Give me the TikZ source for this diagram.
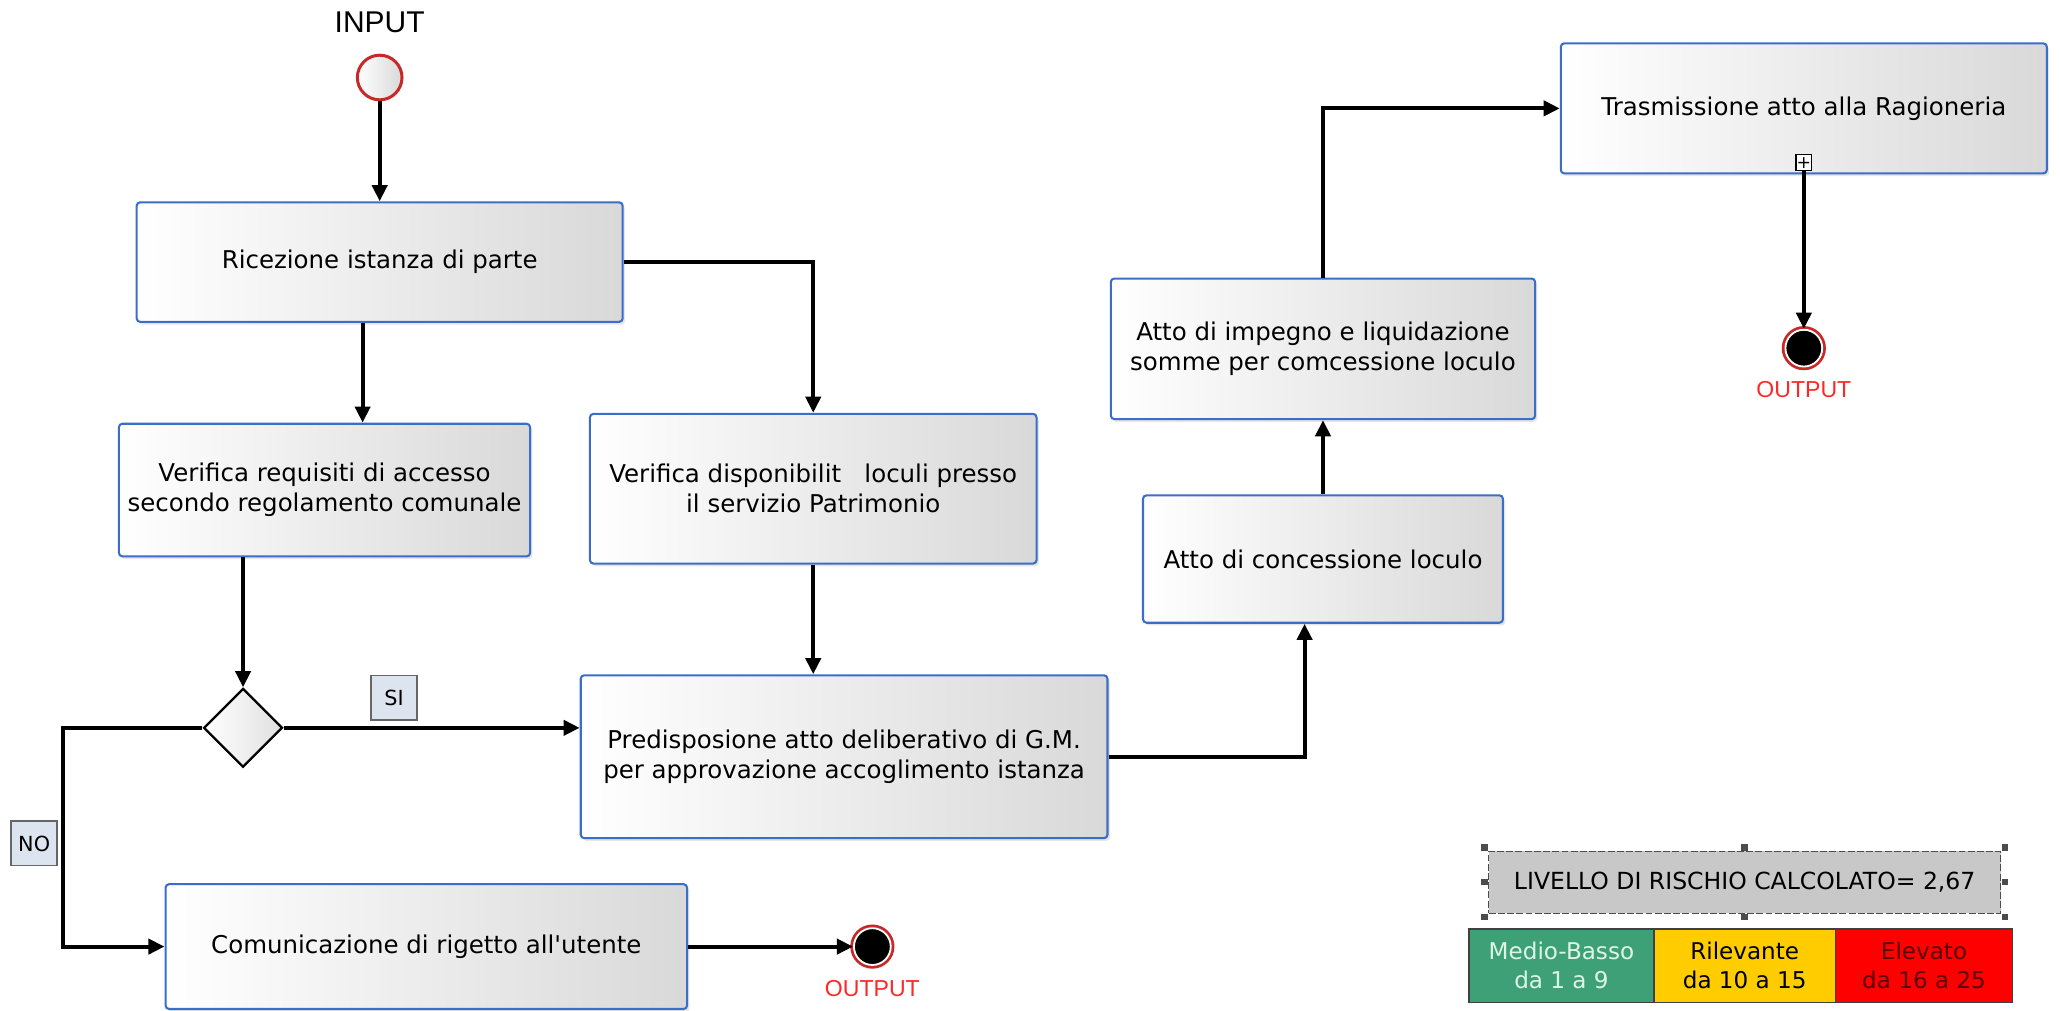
\documentclass[tikz,border=0pt]{standalone}
\usepackage{fontspec}
\setmainfont{DejaVu Sans}
\newfontfamily\arialfont{Liberation Sans}
\usepackage{tikz}
\usetikzlibrary{arrows.meta,positioning,shapes.geometric,shadows}

\definecolor{bordoblu}{RGB}{58,110,200}
\definecolor{rossocerchio}{RGB}{200,40,40}
\definecolor{rossotesto}{RGB}{255,40,40}
\definecolor{azzurrino}{RGB}{220,228,240}
\definecolor{grigiolivello}{RGB}{200,200,200}
\definecolor{verdelivello}{RGB}{62,160,118}
\definecolor{verdetesto}{RGB}{220,245,230}
\definecolor{giallolivello}{RGB}{255,204,0}
\definecolor{rossolivello}{RGB}{255,0,0}
\definecolor{rossoscuro}{RGB}{90,0,0}

\begin{document}
\begin{tikzpicture}[
    % 定義樣式
    x=0.02cm, y=-0.02cm,
    freccia/.style={-{Triangle[length=7pt,width=6.5pt]}, line width=1.8pt, draw=black},
    attivita/.style={rectangle, rounded corners=1.5pt, draw=bordoblu, line width=0.9pt,
        left color=white, right color=black!15, align=center, inner sep=2pt,
        drop shadow={opacity=0.2,shadow xshift=1pt,shadow yshift=-1.2pt},
        font=\fontsize{10.6}{13}\selectfont},
    decisione/.style={diamond, aspect=1, draw=black, line width=1pt, left color=white,
        right color=black!12, minimum width=1.2cm, minimum height=1.2cm, inner sep=0pt},
    inizio/.style={circle, draw=rossocerchio, line width=1.3pt, left color=white,
        right color=black!15, minimum size=0.68cm, inner sep=0pt},
    fine/.style={circle, fill=black, draw=white, line width=0.8pt, minimum size=0.56cm,
        inner sep=0pt, preaction={draw=rossocerchio, line width=3.2pt}},
    uscita/.style={text=rossotesto, font=\arialfont\fontsize{10}{12}\selectfont, inner sep=0pt},
    etichetta/.style={rectangle, draw=black!60, fill=azzurrino, line width=0.6pt,
        minimum width=0.7cm, minimum height=0.68cm, inner sep=1pt, font=\fontsize{9}{11}\selectfont},
    livellobox/.style={rectangle, draw=black!70, dash pattern=on 3pt off 1pt, line width=0.5pt,
        fill=grigiolivello, minimum width=7.8cm, minimum height=0.94cm, outer sep=0.06cm,
        font=\fontsize{10.2}{12}\selectfont},
    maniglia/.style={rectangle, fill=black!70, minimum size=0.1cm, inner sep=0pt},
    cella/.style={rectangle, draw=black!75, line width=0.6pt, minimum height=1.12cm,
        align=center, inner sep=1pt, font=\fontsize{10}{12.5}\selectfont},
    espandi/.style={rectangle, draw=black, line width=0.5pt, fill=white, minimum size=0.24cm,
        inner sep=0pt, font=\fontsize{7.5}{7.5}\selectfont}
]
    \useasboundingbox (0,0) rectangle (1568,769.5);

    % --- 1. 開始 (INPUT) ---
    \node[inizio] (start) at (289,59) {};
    \node[above=9pt of start, inner sep=0pt, font=\arialfont\fontsize{13}{15}\selectfont] (input) {INPUT};

    % --- 2. 左側流程 ---
    \node[attivita, minimum width=7.4cm, minimum height=1.82cm] (ric) at (289,199.5) {Ricezione istanza di parte};
    \node[attivita, minimum width=6.26cm, minimum height=2.02cm] (req) at (247,373) {Verifica requisiti di accesso\\secondo regolamento comunale};
    \node[attivita, minimum width=6.8cm, minimum height=2.28cm] (disp) at (619,372) {Verifica disponibilit~~ loculi presso\\il servizio Patrimonio};
    \node[decisione] (dec) at (185,554) {};
    \node[attivita, minimum width=8.02cm, minimum height=2.48cm] (pred) at (642.5,576) {Predisposione atto deliberativo di G.M.\\per approvazione accoglimento istanza};
    \node[attivita, minimum width=7.94cm, minimum height=1.9cm] (rig) at (324.5,720.5) {Comunicazione di rigetto all\textquotesingle utente};
    \node[fine] (fine1) at (664,720.5) {};
    \node[uscita, below=6pt of fine1] (out1) {OUTPUT};

    % 標籤 SI / NO
    \node[etichetta] (si) at (300,531) {SI};
    \node[etichetta] (no) at (26,642) {NO};
    \coordinate (angolo-no) at (48,554);

    % --- 3. 右側流程 ---
    \node[attivita, minimum width=5.48cm, minimum height=1.94cm] (conc) at (1007,425.5) {Atto di concessione loculo};
    \node[attivita, minimum width=6.46cm, minimum height=2.14cm] (imp) at (1007,265.5) {Atto di impegno e liquidazione\\somme per comcessione loculo};
    \node[attivita, minimum width=7.4cm, minimum height=1.98cm] (tras) at (1373,82.5) {Trasmissione atto alla Ragioneria};
    \node[espandi] (piu) at ([yshift=0.18cm]tras.south) {+};
    \node[fine] (fine2) at (1373,265) {};
    \node[uscita, below=6pt of fine2] (out2) {OUTPUT};

    % --- 4. 連接線 ---
    \draw[freccia] (start) -- (ric);
    \draw[freccia] ([xshift=-0.26cm]ric.south) -- ([xshift=-0.26cm]ric.south |- req.north);
    \draw[freccia] (ric.east) -| (disp.north);
    \draw[freccia] (req.south -| dec.north) -- (dec.north);
    \draw[freccia] (disp.south) -- (disp.south |- pred.north);
    \draw[freccia] (dec.east) -- (dec.east -| pred.west);
    \draw[freccia] (dec.west) -- (angolo-no) |- (rig.west);
    \draw[freccia] (rig.east) -- (fine1);
    \draw[freccia] (pred.east) -| ([xshift=-0.28cm]conc.south);
    \draw[freccia] (conc.north) -- (imp.south);
    \draw[freccia] (imp.north) |- (tras.west);
    \draw[freccia] (piu.south) -- (fine2);

    % --- 5. 風險等級 ---
    \node[livellobox] (livello) at (1328,671.5) {LIVELLO DI RISCHIO CALCOLATO= 2,67};
    \foreach \ancora [count=\i] in {north west,north,north east,east,south east,south,south west,west}
        \node[maniglia] (M-\i) at (livello.\ancora) {};

    \foreach \name/\x/\w/\colore/\coltesto/\testo in {
        basso/1188.5/2.82/verdelivello/verdetesto/{Medio-Basso\\da 1 a 9},
        rilevante/1328/2.76/giallolivello/black/{Rilevante\\da 10 a 15},
        elevato/1464.5/2.7/rossolivello/rossoscuro/{Elevato\\da 16 a 25}}
        \node[cella, minimum width=\w cm, fill=\colore, text=\coltesto] (L-\name) at (\x,735) {\testo};

\end{tikzpicture}
\end{document}
